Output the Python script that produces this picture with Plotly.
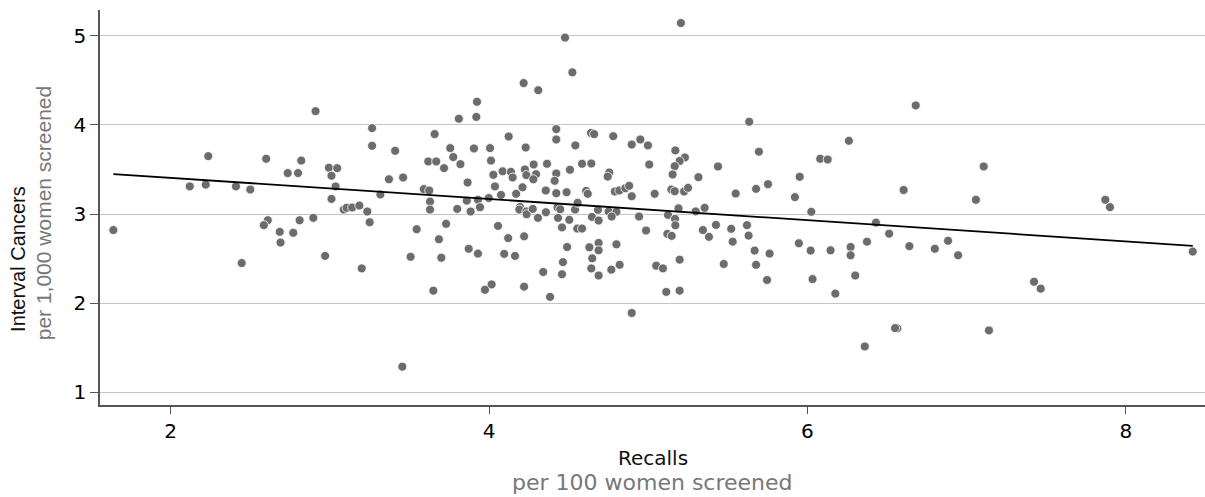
import plotly.graph_objects as go

# Screening units: recalls per 100 women screened vs interval cancers per 1,000 women screened
recalls = [
    2.91, 2.236, 2.60, 2.82, 2.735, 2.80, 2.12, 2.22, 2.41, 2.50, 1.64, 2.61, 2.585, 2.81, 2.896,
    2.685, 2.77, 2.69, 2.446,
    3.924, 3.81, 3.92, 3.265, 3.658, 3.265, 3.41, 3.756, 3.905, 3.775, 3.618, 3.668, 3.82, 3.717,
    2.994, 3.046, 3.01, 3.371, 3.46, 3.036, 3.865, 3.59, 3.624, 3.317, 3.01, 3.629, 3.86, 3.93,
    3.087, 3.105, 3.14, 3.185, 3.235, 3.25, 3.629, 3.80, 3.884, 3.943, 3.73, 3.545, 3.685, 3.872,
    3.93, 2.97, 3.507, 3.70, 3.20, 3.65, 3.455,
    4.477, 4.523, 4.217, 4.309, 4.422, 4.422, 4.123, 4.23, 4.006, 4.542, 4.012, 4.28, 4.364, 4.085,
    4.137, 4.027, 4.148, 4.225, 4.234, 4.295, 4.422, 4.508, 4.412, 4.278, 4.037, 4.21, 4.356, 4.422,
    4.487, 4.075, 4.17, 3.998, 4.194, 4.19, 4.234, 4.236, 4.274, 4.307, 4.357, 4.43, 4.447, 4.54,
    4.433, 4.504, 4.458, 4.554, 4.056, 4.12, 4.22, 4.49, 4.095, 4.163, 4.464, 4.34, 4.458, 4.016,
    3.974, 4.22, 4.383,
    5.205, 4.64, 4.66, 4.78, 4.95, 4.896, 4.998, 5.17, 5.23, 5.197, 4.584, 4.642, 5.006, 5.166,
    4.755, 4.745, 5.153, 4.61, 4.79, 4.818, 4.856, 4.88, 4.896, 5.04, 5.145, 5.166, 5.225, 4.62,
    4.556, 4.684, 4.751, 4.80, 4.77, 4.646, 4.688, 4.942, 5.124, 5.19, 5.168, 5.17, 4.584, 4.986,
    5.12, 5.147, 4.63, 4.688, 4.688, 4.80, 4.648, 4.642, 4.688, 4.768, 4.82, 5.05, 5.092, 5.197,
    5.113, 5.197, 4.896,
    5.634, 5.695, 5.438, 6.08, 6.127, 5.315, 5.951, 5.25, 5.677, 5.752, 5.549, 5.921, 5.298, 5.354,
    6.024, 5.343, 5.381, 5.425, 5.521, 5.62, 5.63, 5.53, 5.668, 5.762, 5.946, 6.02, 6.145, 5.474,
    5.677, 5.746, 6.032,
    6.68, 6.26, 7.107, 6.604, 7.058, 6.43, 6.513, 6.271, 6.271, 6.374, 6.64, 6.80, 6.883, 6.946,
    6.30, 6.175, 6.564, 6.55, 7.14, 6.36,
    7.871, 7.90, 8.42, 7.423, 7.465,
]
interval_cancers = [
    4.155, 3.65, 3.62, 3.60, 3.46, 3.46, 3.31, 3.33, 3.31, 3.275, 2.82, 2.93, 2.875, 2.93, 2.957,
    2.80, 2.79, 2.68, 2.45,
    4.26, 4.07, 4.09, 3.964, 3.897, 3.766, 3.71, 3.74, 3.736, 3.64, 3.59, 3.59, 3.56, 3.515,
    3.52, 3.515, 3.43, 3.39, 3.41, 3.31, 3.354, 3.28, 3.264, 3.22, 3.17, 3.14, 3.15, 3.16,
    3.05, 3.07, 3.073, 3.095, 3.028, 2.908, 3.05, 3.058, 3.028, 3.076, 2.89, 2.83, 2.717, 2.61,
    2.556, 2.53, 2.52, 2.51, 2.39, 2.14, 1.287,
    4.98, 4.59, 4.47, 4.39, 3.953, 3.837, 3.87, 3.747, 3.74, 3.77, 3.60, 3.556, 3.564, 3.48,
    3.474, 3.44, 3.41, 3.50, 3.437, 3.447, 3.455, 3.497, 3.373, 3.39, 3.31, 3.30, 3.264, 3.234,
    3.245, 3.215, 3.227, 3.18, 3.08, 3.05, 3.03, 2.998, 3.058, 2.957, 3.02, 3.073, 3.054, 3.05,
    2.957, 2.935, 2.85, 2.837, 2.867, 2.73, 2.75, 2.63, 2.553, 2.53, 2.46, 2.35, 2.324, 2.21,
    2.15, 2.185, 2.07,
    5.144, 3.91, 3.897, 3.874, 3.837, 3.78, 3.77, 3.714, 3.635, 3.595, 3.564, 3.567, 3.556, 3.537,
    3.466, 3.42, 3.444, 3.26, 3.253, 3.264, 3.29, 3.317, 3.20, 3.227, 3.275, 3.256, 3.253, 3.227,
    3.126, 3.047, 3.028, 3.025, 2.972, 2.968, 2.927, 2.972, 2.99, 3.064, 2.946, 2.874, 2.837, 2.815,
    2.777, 2.755, 2.627, 2.676, 2.593, 2.66, 2.503, 2.39, 2.31, 2.376, 2.43, 2.42, 2.39, 2.488,
    2.126, 2.14, 1.89,
    4.036, 3.70, 3.534, 3.62, 3.612, 3.414, 3.418, 3.294, 3.283, 3.335, 3.23, 3.19, 3.03, 3.07,
    3.025, 2.82, 2.744, 2.878, 2.834, 2.875, 2.758, 2.69, 2.59, 2.556, 2.672, 2.59, 2.593, 2.44,
    2.43, 2.26, 2.27,
    4.219, 3.822, 3.534, 3.27, 3.16, 2.904, 2.78, 2.63, 2.537, 2.69, 2.64, 2.61, 2.70, 2.537,
    2.31, 2.107, 1.717, 1.72, 1.694, 1.514,
    3.16, 3.077, 2.579, 2.24, 2.163,
]

# Fitted regression line
fit_intercept = 3.644
fit_slope = -0.1188

x_ticks = [2, 4, 6, 8]
y_ticks = [1, 2, 3, 4, 5]

x_title = "Recalls"
x_subtitle = "per 100 women screened"
y_title = "Interval Cancers"
y_subtitle = "per 1,000 women screened"

FONT = "Liberation Sans, Arial, Helvetica, sans-serif"
WIDE = "DejaVu Sans, Liberation Sans, sans-serif"

fig = go.Figure()

fig.add_trace(go.Scatter(
    x=recalls, y=interval_cancers, mode="markers",
    marker=dict(color="#6c6c6c", size=9, line=dict(color="white", width=0.8)),
    hoverinfo="x+y", showlegend=False,
))

x0, x1 = min(recalls), max(recalls)
fig.add_trace(go.Scatter(
    x=[x0, x1], y=[fit_intercept + fit_slope * x0, fit_intercept + fit_slope * x1],
    mode="lines", line=dict(color="black", width=1.8), hoverinfo="skip", showlegend=False,
))

fig.update_layout(
    width=1205, height=497,
    margin=dict(l=100, r=0, t=10, b=92),
    paper_bgcolor="white", plot_bgcolor="white",
    font=dict(family=FONT, color="black", size=20),
    xaxis=dict(
        range=[1.556, 8.497], tickvals=x_ticks, ticktext=[str(v) for v in x_ticks],
        showgrid=False, zeroline=False,
        showline=True, linecolor="#555555", linewidth=1.5,
        ticks="outside", ticklen=7, tickcolor="#555555", tickwidth=1.2,
        tickfont=dict(size=20, family=WIDE, color="black"),
    ),
    yaxis=dict(
        range=[0.857, 5.29], tickvals=y_ticks, ticktext=[str(v) for v in y_ticks],
        showgrid=True, gridcolor="#c4c4c4", gridwidth=1.3, zeroline=False,
        showline=True, linecolor="#555555", linewidth=1.5,
        ticks="outside", ticklen=8, tickcolor="#555555", tickwidth=1.2,
        tickfont=dict(size=20, family=WIDE, color="black"),
    ),
    annotations=[
        dict(text=x_title, xref="paper", yref="paper", x=0.5, y=-0.134,
             xanchor="center", yanchor="middle", showarrow=False,
             font=dict(size=20, family=WIDE, color="#111111")),
        dict(text=x_subtitle, xref="paper", yref="paper", x=0.5, y=-0.196,
             xanchor="center", yanchor="middle", showarrow=False,
             font=dict(size=22, family=WIDE, color="#777777")),
        dict(text=y_title, xref="paper", yref="paper", x=-0.0742, y=0.18,
             xanchor="center", yanchor="bottom", textangle=-90, showarrow=False,
             font=dict(size=20, family=FONT, color="#111111")),
        dict(text=y_subtitle, xref="paper", yref="paper", x=-0.0516, y=0.16,
             xanchor="center", yanchor="bottom", textangle=-90, showarrow=False,
             font=dict(size=21, family=FONT, color="#777777")),
    ],
)

fig.write_html(
    "out.html",
    config={"displayModeBar": False},
    post_script="document.body.style.margin='0';document.body.style.overflow='hidden';",
)
